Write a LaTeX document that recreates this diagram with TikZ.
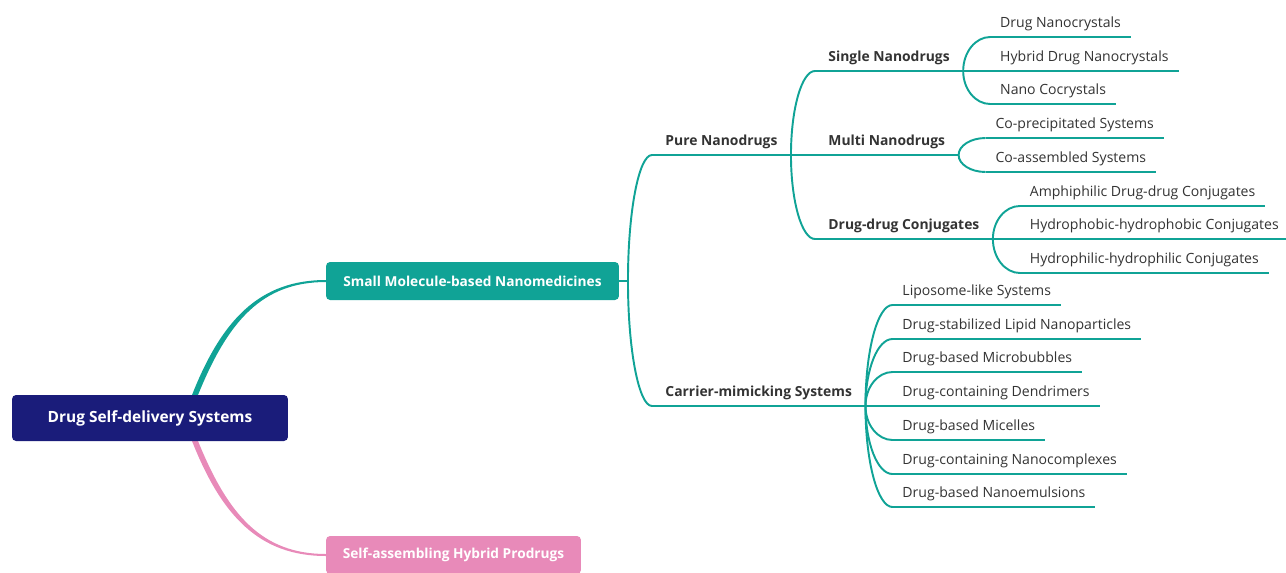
\documentclass[tikz,border=0pt]{standalone}
\usepackage{fontspec}
\setmainfont{Open Sans}
\usetikzlibrary{positioning}
\usetikzlibrary{shapes,arrows,backgrounds,fit,calc}
\definecolor{navy}{RGB}{26,28,122}
\definecolor{tealc}{RGB}{16,163,150}
\definecolor{pinkc}{RGB}{232,138,185}
\definecolor{txtgray}{RGB}{51,51,51}
\newcommand{\mapfont}{\fontsize{8}{9.6}\selectfont}

\begin{document}
\begin{tikzpicture}[x=0.02cm, y=-0.02cm, outer sep=0pt]
\tikzstyle{box}=[
                  rectangle,
                  rounded corners=2.3pt,
                  text=white,
                  font=\fontsize{7.8}{9.4}\selectfont\bfseries,
                  minimum height=0.76cm]

\tikzstyle{branch}=[
                  rectangle,
                  anchor=south west,
                  text=txtgray,
                  font=\fontsize{7.9}{9.5}\selectfont\bfseries,
                  inner xsep=0.27cm,
                  inner ysep=3.5pt,
                  text height=6pt,
                  text depth=1.8pt]

\tikzstyle{leaf}=[branch, font=\mapfont, inner xsep=0.2cm]

\tikzstyle{link}=[draw=tealc, line width=1.1pt]

\useasboundingbox (0,0) rectangle (1286,572);

\node[box, fill=navy, minimum width=5.52cm, minimum height=0.92cm, font=\fontsize{8.8}{10.6}\selectfont\bfseries] (dsds) at (150,418) {Drug Self-delivery Systems};
\node[box, fill=tealc, minimum width=5.86cm] (smn) at (472.5,281) {Small Molecule-based Nanomedicines};
\node[box, fill=pinkc, minimum width=5.1cm]  (shp) at (453.5,555) {Self-assembling Hybrid Prodrugs};

\coordinate (dsdsup)   at ($(dsds.north)+(45,0)$);
\coordinate (dsdsdown) at ($(dsds.south)+(45,0)$);
\coordinate (smnj)     at ($(smn.east)+(9,0)$);

\node[branch] (pure) at ($(smnj)+(24,-126)$) {Pure Nanodrugs};
\node[branch] (cms)  at ($(smnj)+(24,125)$)  {Carrier-mimicking Systems};

\node[branch] (single) at ($(pure.south east)+(24,-84)$) {Single Nanodrugs};
\node[branch] (multi)  at ($(pure.south east)+(24,0)$)   {Multi Nanodrugs};
\node[branch] (ddc)    at ($(pure.south east)+(24,84)$)  {Drug-drug Conjugates};

\node[leaf] (dnc)  at ($(single.south east)+(27,-34)$) {Drug Nanocrystals};
\node[leaf] (hdnc) at ($(single.south east)+(27,0)$)   {Hybrid Drug Nanocrystals};
\node[leaf] (ncc)  at ($(single.south east)+(27,33)$)  {Nano Cocrystals};

\node[leaf] (cps) at ($(multi.south east)+(27,-17)$) {Co-precipitated Systems};
\node[leaf] (cas) at ($(multi.south east)+(27,17)$)  {Co-assembled Systems};

\node[leaf] (addc) at ($(ddc.south east)+(27,-33)$) {Amphiphilic Drug-drug Conjugates};
\node[leaf] (hhc)  at ($(ddc.south east)+(27,0)$)   {Hydrophobic-hydrophobic Conjugates};
\node[leaf] (hlc)  at ($(ddc.south east)+(27,34)$)  {Hydrophilic-hydrophilic Conjugates};

\node[leaf] (lls)  at ($(cms.south east)+(27,-101)$) {Liposome-like Systems};
\node[leaf] (dsln) at ($(cms.south east)+(27,-67)$)  {Drug-stabilized Lipid Nanoparticles};
\node[leaf] (dbmb) at ($(cms.south east)+(27,-34)$)  {Drug-based Microbubbles};
\node[leaf] (dcd)  at ($(cms.south east)+(27,0)$)    {Drug-containing Dendrimers};
\node[leaf] (dbm)  at ($(cms.south east)+(27,34)$)   {Drug-based Micelles};
\node[leaf] (dcnc) at ($(cms.south east)+(27,68)$)   {Drug-containing Nanocomplexes};
\node[leaf] (dbne) at ($(cms.south east)+(27,101)$)  {Drug-based Nanoemulsions};

\begin{scope}[on background layer]
\fill[tealc] ($(dsdsup)+(-3,0)$) .. controls +(30,-76) and +(-66,0) .. ($(smn.west)+(0,-1)$)
          -- ($(smn.west)+(0,1)$) .. controls +(-64,0) and +(30,-74) .. ($(dsdsup)+(3,0)$) -- cycle;
\fill[pinkc] ($(dsdsdown)+(-3,0)$) .. controls +(30,76) and +(-66,0) .. ($(shp.west)+(0,1)$)
          -- ($(shp.west)+(0,-1)$) .. controls +(-64,0) and +(30,74) .. ($(dsdsdown)+(3,0)$) -- cycle;
\end{scope}

\draw[link] (smn.east) -- (smnj);
\foreach \c in {pure,cms}
  \draw[link] (smnj) .. controls ($(smnj)!0.55!(smnj |- \c.south west)$)
                        and ($(\c.south west)!0.55!(smnj |- \c.south west)$) .. (\c.south west);

\foreach \p/\c in {pure/single, pure/multi, pure/ddc,
                   single/dnc, single/hdnc, single/ncc,
                   multi/cps, multi/cas,
                   ddc/addc, ddc/hhc, ddc/hlc,
                   cms/lls, cms/dsln, cms/dbmb, cms/dcd, cms/dbm, cms/dcnc, cms/dbne}
  \draw[link] (\p.south east) .. controls ($(\p.south east)!0.55!(\p.south east |- \c.south west)$)
                        and ($(\c.south west)!0.55!(\p.south east |- \c.south west)$) .. (\c.south west);

\foreach \n in {pure, cms, single, multi, ddc, dnc, hdnc, ncc, cps, cas, addc, hhc, hlc,
                lls, dsln, dbmb, dcd, dbm, dcnc, dbne}
  \draw[link] (\n.south west) -- (\n.south east);

%\draw[red] (0,0) rectangle (1286,572);
\end{tikzpicture}
\end{document}
